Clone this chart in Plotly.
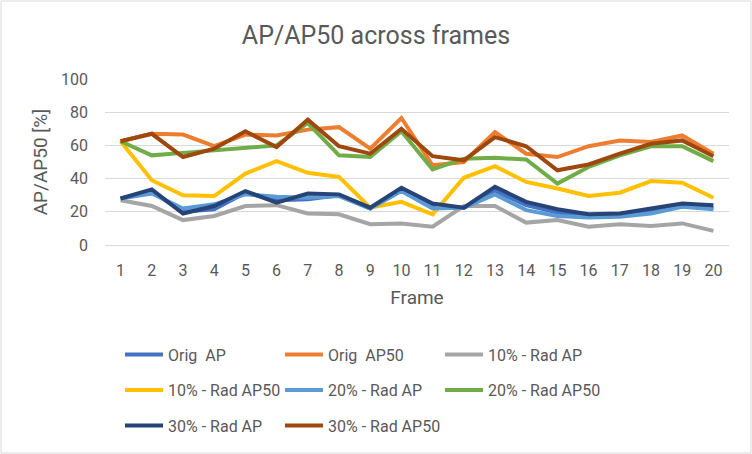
import plotly.graph_objects as go

frames = [str(i) for i in range(1, 21)]

orig_ap = [28, 32, 20, 21.5, 31.5, 27, 27.5, 30, 22, 33.5, 23, 22.5, 32.5, 24, 19.5, 17.5, 18, 20.5, 23.5, 22]
orig_ap50 = [62.5, 67, 66.5, 59.5, 66.5, 66, 69.5, 71, 58, 76.5, 48, 50, 68, 55, 53, 59.5, 63, 62, 66, 55]
rad10_ap = [27, 23.5, 15, 17.5, 23.5, 24, 19, 18.5, 12.5, 13, 11, 23.5, 23.5, 13.5, 15, 11, 12.5, 11.5, 13, 8.5]
rad10_ap50 = [62.5, 39, 30, 29.5, 43, 50.5, 43.5, 41, 22.5, 26, 18.5, 40.5, 47.5, 38, 34, 29.5, 31.5, 38.5, 37.5, 28.5]
rad20_ap = [28, 31, 22, 24.5, 30.5, 29, 28.5, 29.5, 22, 32.5, 22, 22.5, 30.5, 21, 17.5, 16.5, 17, 19, 23, 21.5]
rad20_ap50 = [62.5, 54, 55.5, 57, 58, 60, 73.5, 54, 53, 68.5, 45.5, 52, 52.5, 51.5, 37, 47, 54, 59.5, 59.5, 50.5]
rad30_ap = [28, 33.5, 19, 23.5, 32.5, 25.5, 31, 30.5, 22.5, 34.5, 25, 22.5, 35, 26, 21.5, 18.5, 19, 22, 25, 24]
rad30_ap50 = [62.5, 67, 53, 58, 68.5, 59, 75.5, 59.5, 55, 70, 53.5, 51, 65, 59.5, 45, 48.5, 55, 61, 63, 53.5]

series_names = ["Orig  AP", "Orig  AP50", "10% - Rad AP", "10% - Rad AP50",
                "20% - Rad AP", "20% - Rad AP50", "30% - Rad AP", "30% - Rad AP50"]
series_values = [orig_ap, orig_ap50, rad10_ap, rad10_ap50, rad20_ap, rad20_ap50, rad30_ap, rad30_ap50]
series_colors = ["#4472C4", "#ED7D31", "#A5A5A5", "#FFC000",
                 "#5B9BD5", "#70AD47", "#264478", "#9E480E"]

FONT = "Roboto, sans-serif"
TXT = "#595959"

W, H = 752, 454
ml, mr, mt, mb = 105, 23, 79, 209
pw = W - ml - mr
ph = H - mt - mb

legend_ids = ["legend", "legend2", "legend3"]
row_centers = [354.5, 390, 425.5]

fig = go.Figure()
for i, (name, vals, col) in enumerate(zip(series_names, series_values, series_colors)):
    fig.add_trace(go.Scatter(x=frames, y=vals, name=name, mode="lines",
                             line=dict(color=col, width=4),
                             legend=legend_ids[i // 3]))

legend_common = dict(orientation="h", xanchor="left", yanchor="middle",
                     entrywidth=107, entrywidthmode="pixels", itemwidth=38,
                     font=dict(size=16, color=TXT, family=FONT),
                     bgcolor="rgba(0,0,0,0)", borderwidth=0)

layout_legends = {}
for lid, yc in zip(legend_ids, row_centers):
    layout_legends[lid] = dict(legend_common, x=(120 - ml) / pw,
                               y=-(yc - (mt + ph)) / ph)

fig.update_layout(
    width=W, height=H,
    margin=dict(l=ml, r=mr, t=mt, b=mb, autoexpand=False),
    paper_bgcolor="white", plot_bgcolor="white",
    font=dict(family=FONT, color=TXT, size=16),
    title=dict(text="AP/AP50 across frames", x=0.5, xref="container", xanchor="center",
               y=1 - 35 / H, yref="container", yanchor="middle",
               font=dict(size=25, color=TXT, family=FONT)),
    xaxis=dict(type="category", range=[-0.5, 19.5], showgrid=False,
               showline=True, linecolor="#D9D9D9", linewidth=1, ticks="",
               tickfont=dict(size=16, color=TXT), ticklabelstandoff=11,
               title=dict(text="Frame", font=dict(size=19, color=TXT), standoff=11)),
    yaxis=dict(range=[0, 100], tickvals=[0, 20, 40, 60, 80, 100], showgrid=True,
               gridcolor="#D9D9D9", gridwidth=1, zeroline=False, ticks="",
               tickfont=dict(size=16, color=TXT), ticklabelstandoff=16,
               title=dict(text="AP/AP50 [%]", font=dict(size=19, color=TXT), standoff=8)),
    shapes=[dict(type="rect", xref="paper", yref="paper",
                 x0=-(ml - 1) / pw, x1=1 + (mr - 1) / pw,
                 y0=-(mb - 1) / ph, y1=1 + (mt - 1) / ph,
                 line=dict(color="#D9D9D9", width=1), layer="below")],
    **layout_legends,
)

fig.write_html("out.html", config={"displayModeBar": False},
               post_script="document.body.style.margin='0';")
